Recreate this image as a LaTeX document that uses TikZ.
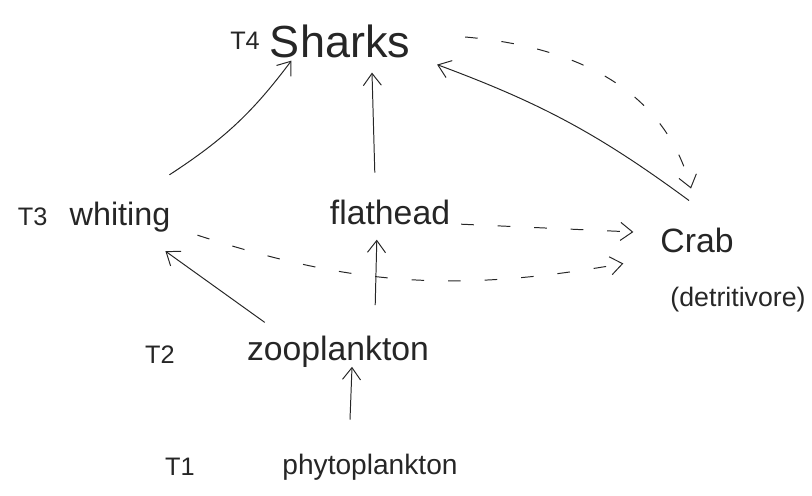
\documentclass[tikz,border=0pt]{standalone}
\usepackage{fontspec}
\setmainfont{Liberation Sans}
\usetikzlibrary{arrows.meta,positioning,calc}
\tikzset{
    especie/.style={
        inner sep=2pt,
        text=black!85,
        font=\fontsize{24}{28}\selectfont
    },
    nivel/.style={especie, font=\fontsize{18}{22}\selectfont},
    come/.style={-{Straight Barb[length=3mm,width=4.5mm]}, line width=0.7pt, draw=black!85},
    detrito/.style={come, dash pattern=on 9pt off 17pt}
}

\begin{document}
\begin{tikzpicture}
    \useasboundingbox (0,0) rectangle (20.3,12.375);
    % niveis troficos
    \node[especie, font=\fontsize{32}{36}\selectfont] (sharks) at (8.5,11.35) {Sharks};
    \node[nivel, left=0.1cm of sharks] (t4) {T4};
    \node[especie, font=\fontsize{23}{27}\selectfont] (whiting) at (3.0,6.95) {whiting};
    \node[nivel, left=0.4cm of whiting] (t3) {T3};
    \node[especie] (flathead) at (9.75,7.07) {flathead};
    \node[especie] (crab) at (17.425,6.375) {Crab};
    \node[especie, font=\fontsize{19}{23}\selectfont] (detritivore) at (18.45,4.875) {(detritivore)};
    \node[especie] (zoo) at (8.45,3.575) {zooplankton};
    \node[nivel] (t2) at (4.0,3.5) {T2};
    \node[especie, font=\fontsize{20}{24}\selectfont] (phyto) at (9.25,0.7) {phytoplankton};
    \node[nivel] (t1) at (4.5,0.7) {T1};

    % quem come quem
    \draw[come] ($(phyto.north)+(-0.5,0.78)$) -- ($(zoo.south)+(0.35,0.1)$);
    \draw[come] ($(zoo.north west)+(0.52,0.27)$) -- ($(whiting.south east)+(-0.2,-0.4)$);
    \draw[come] ($(zoo.north)+(0.93,0.7)$) -- ($(flathead.south)+(-0.33,-0.3)$);
    \draw[come] ($(whiting.north east)+(-0.1,0.6)$) to[bend right=10] (sharks.202);
    \draw[come] ($(flathead.north)+(-0.38,0.6)$) -- ($(sharks.south)+(0.8,-0.3)$);
    \draw[come] ($(crab.north)+(-0.2,0.6)$) to[bend right=8] ($(sharks.south east)+(0.6,-0.1)$);

    % materia morta para o caranguejo
    \draw[detrito] ($(sharks.east)+(1.3,0.1)$) to[out=-5, in=105] ($(crab.north)+(-0.15,0.9)$);
    \draw[detrito] ($(flathead.east)+(0.2,-0.3)$) -- ($(crab.west)+(-0.6,0.2)$);
    \draw[detrito] ($(whiting.south east)+(0.6,0)$) to[out=-18, in=190] ($(crab.south west)+(-0.85,-0.2)$);
\end{tikzpicture}
\end{document}
